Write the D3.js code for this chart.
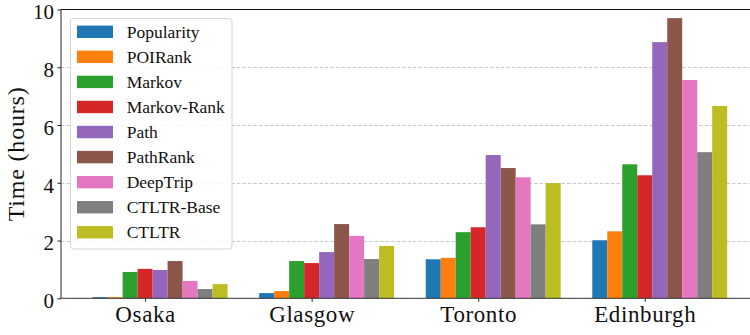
<!DOCTYPE html>
<html>
<head>
<meta charset="utf-8">
<script src="https://cdn.jsdelivr.net/npm/d3@7"></script>
<style>
  html, body { margin: 0; padding: 0; background: #fff; overflow: hidden; }
  svg { display: block; }
  text { font-family: "Liberation Serif", "DejaVu Serif", serif; fill: #111; }
</style>
</head>
<body>
<svg id="chart" width="750" height="335"></svg>
<script>
// ---- data ----
const cities = ["Osaka", "Glasgow", "Toronto", "Edinburgh"];
const methods = ["Popularity", "POIRank", "Markov", "Markov-Rank", "Path", "PathRank", "DeepTrip", "CTLTR-Base", "CTLTR"];
const colors = ["#1f77b4", "#ff7f0e", "#2ca02c", "#d62728", "#9467bd", "#8c564b", "#e377c2", "#7f7f7f", "#bcbd22"];

const popularity  = [0.04, 0.18, 1.35, 2.01];
const poiRank     = [0.04, 0.25, 1.40, 2.32];
const markov      = [0.91, 1.29, 2.29, 4.64];
const markovRank  = [1.02, 1.22, 2.46, 4.26];
const path        = [0.98, 1.60, 4.96, 8.87];
const pathRank    = [1.29, 2.57, 4.51, 9.70];
const deepTrip    = [0.60, 2.16, 4.19, 7.56];
const ctltrBase   = [0.32, 1.36, 2.56, 5.06];
const ctltr       = [0.49, 1.81, 3.99, 6.66];
const seriesValues = [popularity, poiRank, markov, markovRank, path, pathRank, deepTrip, ctltrBase, ctltr];

const yTicks = [0, 2, 4, 6, 8, 10];
const yLabel = "Time (hours)";

// ---- layout ----
const svg = d3.select("#chart");
const plot = { left: 61, right: 759, top: 9.5, bottom: 298.3 };
const barW = 0.09;

const x = d3.scaleLinear().domain([-0.505, 3.686]).range([plot.left, plot.right]);
const y = d3.scaleLinear().domain([0, 10]).range([plot.bottom, plot.top]);

// gridlines
svg.append("g")
  .selectAll("line")
  .data(yTicks.filter(t => t > 0 && t < 10))
  .join("line")
  .attr("x1", plot.left).attr("x2", plot.right)
  .attr("y1", d => Math.round(y(d)) + 0.5).attr("y2", d => Math.round(y(d)) + 0.5)
  .attr("stroke", "#c8c8c8").attr("stroke-width", 1)
  .attr("stroke-dasharray", "3.5,2");

// bars
const bars = [];
seriesValues.forEach((vals, j) => {
  vals.forEach((v, i) => bars.push({ i, j, v }));
});
svg.append("g")
  .selectAll("rect")
  .data(bars)
  .join("rect")
  .attr("x", d => x(d.i + (d.j - 3) * barW - barW / 2))
  .attr("width", d => x(barW) - x(0))
  .attr("y", d => y(d.v))
  .attr("height", d => y(0) - y(d.v))
  .attr("fill", d => colors[d.j]);

// axes
const xAxis = d3.axisBottom(x).tickValues(d3.range(cities.length))
  .tickFormat(i => cities[i]).tickSize(3.5).tickPadding(3);
const gx = svg.append("g").attr("transform", `translate(0,${plot.bottom})`).call(xAxis);
gx.select(".domain").remove();
gx.selectAll(".tick line").attr("stroke", "#222");
gx.selectAll(".tick text").attr("font-size", 23).attr("dy", null).attr("y", 24)
  .style("font-family", '"Liberation Serif", serif').style("letter-spacing", "0.6px").attr("fill", "#111");

const yAxis = d3.axisLeft(y).tickValues(yTicks).tickSize(3.5).tickPadding(3.5);
const gy = svg.append("g").attr("transform", `translate(${plot.left},0)`).call(yAxis);
gy.select(".domain").remove();
gy.selectAll(".tick line").attr("stroke", "#222");
gy.selectAll(".tick text").attr("font-size", 21).attr("y", 2.5)
  .style("font-family", '"Liberation Serif", serif').attr("fill", "#111");

// spines
svg.append("line").attr("x1", plot.left).attr("x2", plot.left)
  .attr("y1", plot.top).attr("y2", plot.bottom).attr("stroke", "#222").attr("stroke-width", 1);
svg.append("line").attr("x1", plot.left).attr("x2", plot.right)
  .attr("y1", plot.bottom).attr("y2", plot.bottom).attr("stroke", "#333").attr("stroke-width", 1);
svg.append("line").attr("x1", plot.left).attr("x2", plot.right)
  .attr("y1", plot.top).attr("y2", plot.top).attr("stroke", "#111").attr("stroke-width", 1.2);

// y label
svg.append("text")
  .attr("transform", `translate(16,${(plot.top + plot.bottom) / 2}) rotate(-90)`)
  .attr("text-anchor", "middle").attr("dominant-baseline", "central")
  .attr("font-size", 24).style("letter-spacing", "0.8px").text(yLabel);

// legend
const leg = svg.append("g");
leg.append("rect").attr("x", 70.5).attr("y", 18.5).attr("width", 161.5).attr("height", 230.5)
  .attr("rx", 3).attr("fill", "#fff").attr("fill-opacity", 0.85)
  .attr("stroke", "#d4d4d4").attr("stroke-width", 1);
const items = leg.selectAll("g.item").data(methods).join("g").attr("class", "item")
  .attr("transform", (d, k) => `translate(0,${31.8 + k * 25.06})`);
items.append("rect").attr("x", 77).attr("y", -6.2).attr("width", 36).attr("height", 12.4)
  .attr("fill", (d, k) => colors[k]);
items.append("text").attr("x", 126.7).attr("y", 6).attr("font-size", 17.5).text(d => d);
</script>
</body>
</html>
